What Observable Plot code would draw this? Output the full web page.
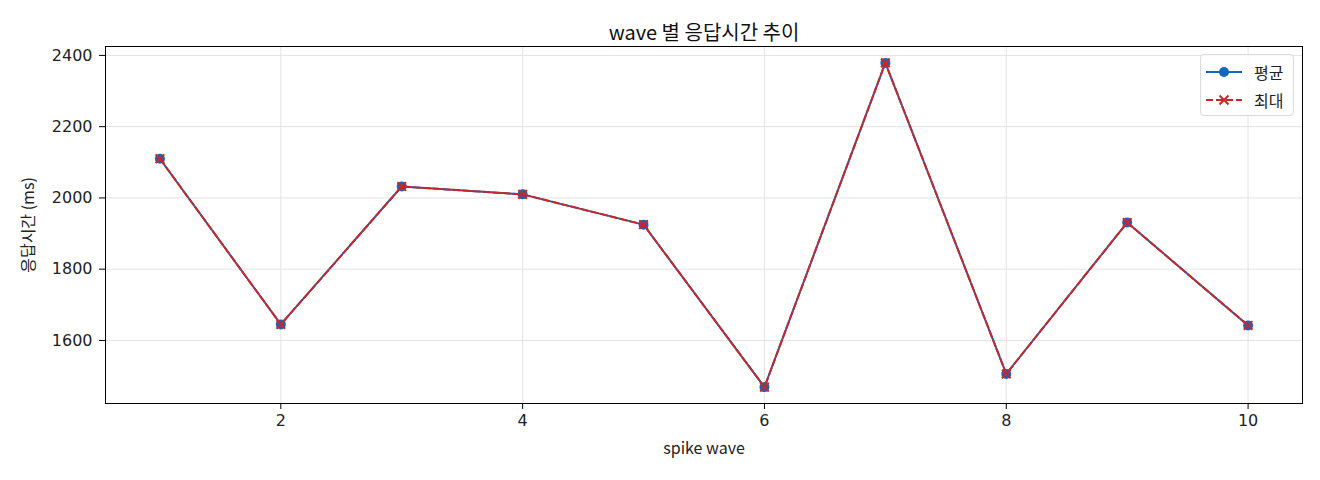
<!DOCTYPE html>
<html>
<head>
<meta charset="utf-8">
<script src="https://cdn.jsdelivr.net/npm/d3@7"></script>
<script src="https://cdn.jsdelivr.net/npm/@observablehq/plot@0.6"></script>
<style>
  body { margin: 0; background: #fff; font-family: "Noto Sans CJK KR", "Noto Sans", sans-serif; }
  #wrap { position: relative; width: 1320px; height: 480px; }
  #legend {
    position: absolute; left: 1200px; top: 54px; width: 94px; height: 62px;
    border: 1px solid #d9d9d9; border-radius: 4px; background: rgba(255,255,255,0.8);
    box-sizing: border-box; font-size: 16px; color: #222;
  }
  .row { position: absolute; left: 4px; height: 20px; display: flex; align-items: center; }
  .row span { margin-left: 11px; line-height: 20px; }
</style>
</head>
<body>
<div id="wrap">
  <div id="chart"></div>
  <div id="legend">
    <div class="row" style="top:7px">
      <svg width="38" height="20"><line x1="1" y1="10" x2="37" y2="10" stroke="#1565c0" stroke-width="2"/><circle cx="19" cy="10" r="5" fill="#1565c0"/></svg>
      <span>평균</span>
    </div>
    <div class="row" style="top:35px">
      <svg width="38" height="20"><line x1="1" y1="10" x2="37" y2="10" stroke="#c62828" stroke-width="2" stroke-dasharray="7,3"/><path d="M14.5,5.5L23.5,14.5M23.5,5.5L14.5,14.5" stroke="#c62828" stroke-width="2"/></svg>
      <span>최대</span>
    </div>
  </div>
</div>
<script>
const waves = [1, 2, 3, 4, 5, 6, 7, 8, 9, 10];
const meanMs = [2110, 1645, 2032, 2010, 1925, 1469, 2379, 1506, 1931, 1642];
const maxMs  = [2110, 1645, 2032, 2010, 1925, 1469, 2379, 1506, 1931, 1642];
const xTicks = [2, 4, 6, 8, 10];
const yTicks = [1600, 1800, 2000, 2200, 2400];

const meanData = waves.map((w, i) => ({wave: w, ms: meanMs[i]}));
const maxData = waves.map((w, i) => ({wave: w, ms: maxMs[i]}));

const blue = "#1565c0", red = "#c62828";
const tickFont = '"DejaVu Sans", sans-serif';

const chart = Plot.plot({
  width: 1320,
  height: 480,
  marginLeft: 105,
  marginRight: 18,
  marginTop: 46,
  marginBottom: 77,
  style: {fontFamily: '"Noto Sans CJK KR", "Noto Sans", sans-serif', fontSize: "17px", color: "#222"},
  x: {domain: [0.55, 10.45], label: null},
  y: {domain: [1423, 2425], label: null},
  marks: [
    Plot.gridX(xTicks, {stroke: "#e3e3e3", strokeOpacity: 1, strokeWidth: 1}),
    Plot.gridY(yTicks, {stroke: "#e3e3e3", strokeOpacity: 1, strokeWidth: 1}),
    Plot.axisX({ticks: xTicks, tickSize: 6, tickPadding: 5, label: null, fontSize: 16, fontFamily: tickFont, tickFormat: d3.format("d"), stroke: "#000", fill: "#222"}),
    Plot.axisY({ticks: yTicks, tickSize: 6, tickPadding: 7, label: null, fontSize: 16, fontFamily: tickFont, tickFormat: d3.format("d"), stroke: "#000", fill: "#222", style: {letterSpacing: "1px"}}),
    Plot.frame({stroke: "#000", strokeWidth: 1}),
    Plot.lineY(meanData, {x: "wave", y: "ms", stroke: blue, strokeWidth: 2}),
    Plot.dot(meanData, {x: "wave", y: "ms", fill: blue, r: 5}),
    Plot.lineY(maxData, {x: "wave", y: "ms", stroke: red, strokeWidth: 2, strokeDasharray: "7,3"}),
    Plot.dot(maxData, {x: "wave", y: "ms", symbol: "times", stroke: red, strokeWidth: 2, r: 4}),
    Plot.text(["wave 별 응답시간 추이"], {frameAnchor: "top", dy: -21, fontSize: 20, fill: "#111"}),
    Plot.text(["spike wave"], {frameAnchor: "bottom", dy: 50, fontSize: 16, fill: "#222"}),
    Plot.text(["응답시간 (ms)"], {frameAnchor: "left", textAnchor: "middle", dx: -77, rotate: -90, fontSize: 16, fill: "#222"})
  ]
});
document.getElementById("chart").appendChild(chart);
</script>
</body>
</html>
